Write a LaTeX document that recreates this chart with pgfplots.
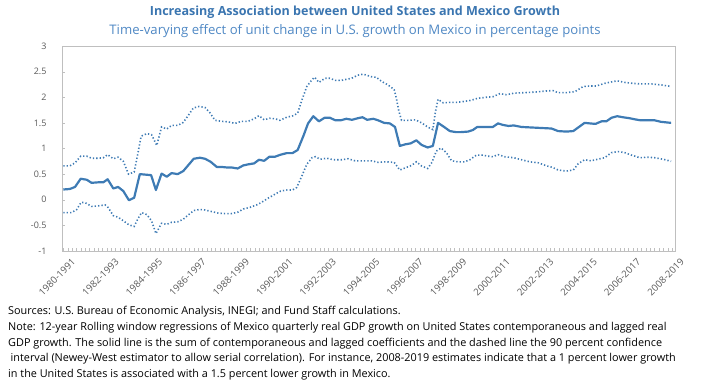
\documentclass[border=0pt]{standalone}
\usepackage{pgfplots}
\pgfplotsset{compat=1.18}
\usepackage{fontspec}
\setmainfont{Open Sans}
\definecolor{lineblue}{RGB}{62,123,180}
\definecolor{titleblue}{RGB}{58,117,176}
\definecolor{subblue}{RGB}{79,136,196}
\definecolor{tickgray}{RGB}{89,89,89}
\definecolor{axgray}{RGB}{191,191,191}
\begin{document}
\begin{tikzpicture}[x=1bp,y=1bp]
\useasboundingbox (0,0) rectangle (702,384);
\node[font=\bfseries\fontsize{12.6}{14}\selectfont, text=titleblue] at (355,372) {Increasing Association between United States and Mexico Growth};
\node[font=\fontsize{13.2}{15}\selectfont, text=subblue] at (355,353) {Time-varying effect of unit change in U.S. growth on Mexico in percentage points};
\begin{axis}[
  at={(62bp,133bp)}, anchor=south west, scale only axis,
  width=613bp, height=205bp,
  xmin=-0.3, xmax=140.7, ymin=-1, ymax=3,
  axis line style={draw=axgray},
  xtick={0,10,...,140},
  xticklabels={1980-1991,1982-1993,1984-1995,1986-1997,1988-1999,1990-2001,1992-2003,1994-2005,1996-2007,1998-2009,2000-2011,2002-2013,2004-2015,2006-2017,2008-2019},
  minor x tick num=9,
  ytick={-1,-0.5,0,0.5,1,1.5,2,2.5,3},
  yticklabels={-1,-0.5,0,0.5,1,1.5,2,2.5,3},
  xtick pos=bottom, ytick pos=left,
  tick align=inside,
  major tick length=3bp, minor tick length=3bp,
  tick style={draw=axgray},
  ticklabel style={font=\fontsize{9}{10}\selectfont, text=tickgray},
  xticklabel style={font=\fontsize{9.6}{11}\selectfont},
  yticklabel style={xshift=-12bp},
  xticklabel style={rotate=45, anchor=north east, yshift=-7bp, xshift=4bp},
]
\addplot[color=lineblue, line width=1.6pt, dash pattern=on 1.3pt off 2.1pt] coordinates {
(0,0.66)(1.5,0.66)(2.7,0.72)(4,0.85)(5.4,0.85)(6.5,0.81)(8,0.81)(9.2,0.82)(10.2,0.88)(11.5,0.80)
(12.6,0.83)(13.8,0.75)(15,0.50)(16.3,0.54)(17.1,0.88)(17.9,1.24)(19.2,1.29)(20.3,1.27)(21.5,1.06)
(22.6,1.42)(23.8,1.38)(24.9,1.45)(26.3,1.45)(27.6,1.51)(28.7,1.64)(29.9,1.79)(31.2,1.82)(32.6,1.80)
(33.7,1.70)(34.9,1.55)(36.4,1.53)(37.9,1.52)(39.5,1.49)(41,1.53)(42.5,1.53)(43.9,1.58)(45,1.64)
(46.2,1.56)(47.5,1.59)(48.7,1.58)(49.8,1.55)(51.4,1.61)(52.9,1.64)(53.9,1.69)(54.9,1.95)(56,2.21)
(57.2,2.34)(57.8,2.39)(58.8,2.29)(60.2,2.37)(61.3,2.37)(62.6,2.33)(64,2.33)(65.1,2.35)(66.3,2.37)
(67.7,2.43)(69,2.45)(70.9,2.40)(72,2.39)(73.2,2.31)(74.7,2.24)(76.1,2.15)(76.6,1.98)(77.2,1.72)
(77.8,1.55)(79.3,1.55)(81,1.56)(82.4,1.50)(83.8,1.42)(85,1.37)(85.6,1.72)(86.2,1.96)(87.4,1.89)
(88.9,1.90)(90.4,1.90)(92.3,1.92)(93.8,1.94)(95.3,1.98)(97.3,2.00)(98.8,2.01)(100.4,2.07)(101.9,2.05)
(103.7,2.08)(106.1,2.09)(108.4,2.10)(110.7,2.12)(112.6,2.13)(113.8,2.09)(115.7,2.09)(117.7,2.11)
(119.6,2.21)(121.1,2.22)(122.6,2.22)(124.5,2.27)(126.1,2.30)(127.4,2.32)(129.1,2.29)(131.1,2.27)
(133,2.26)(135.3,2.26)(137.5,2.24)(139.8,2.21)
};
\addplot[color=lineblue, line width=1.6pt, dash pattern=on 1.3pt off 2.1pt] coordinates {
(0,-0.25)(1.9,-0.25)(3.1,-0.19)(4.1,-0.05)(5.1,-0.06)(6.5,-0.13)(8,-0.12)(9.6,-0.10)(10.3,-0.15)
(11.5,-0.31)(12.6,-0.34)(13.8,-0.41)(15.1,-0.49)(16.3,-0.52)(17.1,-0.38)(18,-0.25)(19.2,-0.29)
(20.3,-0.41)(21.3,-0.66)(22.6,-0.46)(23.8,-0.48)(24.9,-0.44)(26.3,-0.43)(27.6,-0.38)(28.7,-0.30)
(30,-0.21)(31.4,-0.19)(32.6,-0.20)(34.1,-0.23)(35.6,-0.26)(37.2,-0.27)(38.7,-0.27)(40.2,-0.24)
(41.4,-0.18)(42.9,-0.15)(44.5,-0.10)(45.6,-0.05)(47.1,0.03)(48.7,0.11)(50,0.17)(51.4,0.19)(52.7,0.19)
(53.7,0.24)(54.9,0.47)(56,0.69)(57.2,0.82)(58,0.84)(59.1,0.79)(60.6,0.81)(62.2,0.78)(64,0.78)
(65.5,0.80)(67.1,0.76)(69,0.76)(70.9,0.76)(72.4,0.73)(73.9,0.74)(76.1,0.73)(77.4,0.58)(78.9,0.63)
(80.1,0.67)(81.2,0.74)(82.4,0.66)(83.8,0.61)(84.8,0.73)(85.8,0.95)(86.9,1.01)(88.1,0.92)(89.3,0.76)
(90.8,0.74)(92.3,0.74)(93.5,0.78)(95,0.87)(96.5,0.87)(97.7,0.85)(98.8,0.84)(100,0.88)(101.5,0.84)
(103.6,0.82)(105.4,0.78)(107.3,0.74)(109.3,0.72)(111.2,0.66)(112.6,0.63)(113.8,0.58)(115.7,0.56)
(117.3,0.58)(118.4,0.70)(119.9,0.78)(121.4,0.76)(122.9,0.79)(124.5,0.82)(126.1,0.92)(127.6,0.94)
(129.1,0.92)(130.7,0.87)(132.6,0.82)(134.5,0.83)(136,0.82)(138,0.79)(139.8,0.75)
};
\addplot[color=lineblue, line width=2.2pt, line join=round] coordinates {
(0,0.20)(1.5,0.21)(2.7,0.25)(4,0.41)(5.4,0.39)(6.5,0.33)(8,0.34)(9.2,0.34)(10.2,0.40)(11.5,0.22)
(12.6,0.25)(13.8,0.17)(15.1,-0.01)(16.3,0.04)(17.6,0.50)(20.2,0.48)(21.3,0.19)(22.6,0.51)(23.8,0.45)
(24.9,0.52)(26.3,0.50)(27.6,0.56)(28.7,0.67)(30,0.80)(31.4,0.82)(32.6,0.80)(33.9,0.74)(35.3,0.64)
(36.4,0.64)(37.6,0.63)(38.7,0.63)(40.1,0.61)(41.4,0.67)(42.5,0.69)(43.9,0.71)(45,0.78)(46.2,0.76)
(47.4,0.84)(48.7,0.84)(50,0.88)(51.4,0.91)(52.7,0.91)(53.9,0.97)(55.2,1.24)(56.3,1.49)(57.5,1.63)
(58.8,1.53)(60.1,1.60)(61.3,1.60)(62.6,1.55)(63.8,1.55)(65.1,1.58)(66.4,1.56)(67.7,1.59)(68.8,1.61)
(69.9,1.56)(71.3,1.58)(72.4,1.55)(73.8,1.50)(75.1,1.49)(76.3,1.42)(77.4,1.05)(78.6,1.08)(79.9,1.10)
(81.2,1.16)(82.4,1.07)(83.8,1.02)(85,1.05)(86.2,1.50)(87.6,1.42)(88.9,1.34)(90.3,1.32)(91.5,1.32)
(93.1,1.33)(94.2,1.36)(95.2,1.42)(96.5,1.42)(97.7,1.42)(98.8,1.42)(100,1.49)(101.1,1.46)(102.4,1.44)
(103.6,1.45)(105.4,1.42)(107.7,1.41)(110,1.40)(112.3,1.39)(113.8,1.34)(115.7,1.33)(117.3,1.34)
(118.6,1.42)(119.9,1.50)(121.1,1.49)(122.4,1.48)(123.8,1.53)(124.9,1.53)(126.1,1.60)(127.4,1.63)
(128.7,1.61)(130.3,1.59)(131.4,1.57)(132.8,1.55)(134.5,1.55)(136,1.55)(137.5,1.52)(139.8,1.50)
};
\end{axis}
\begin{scope}[every node/.style={anchor=base west, inner sep=0pt, font=\fontsize{10.9}{13}\selectfont}]
\node at (8,69.5) {Sources: U.S. Bureau of Economic Analysis, INEGI; and Fund Staff calculations.};
\node at (8,53.5) {Note: 12-year Rolling window regressions of Mexico quarterly real GDP growth on United States contemporaneous and lagged real};
\node at (8,38) {GDP growth. The solid line is the sum of contemporaneous and lagged coefficients and the dashed line the 90 percent confidence};
\node at (10.5,22.5) {interval (Newey-West estimator to allow serial correlation). For instance, 2008-2019 estimates indicate that a 1 percent lower growth};
\node at (8,6.5) {in the United States is associated with a 1.5 percent lower growth in Mexico.};
\end{scope}
\end{tikzpicture}
\end{document}
